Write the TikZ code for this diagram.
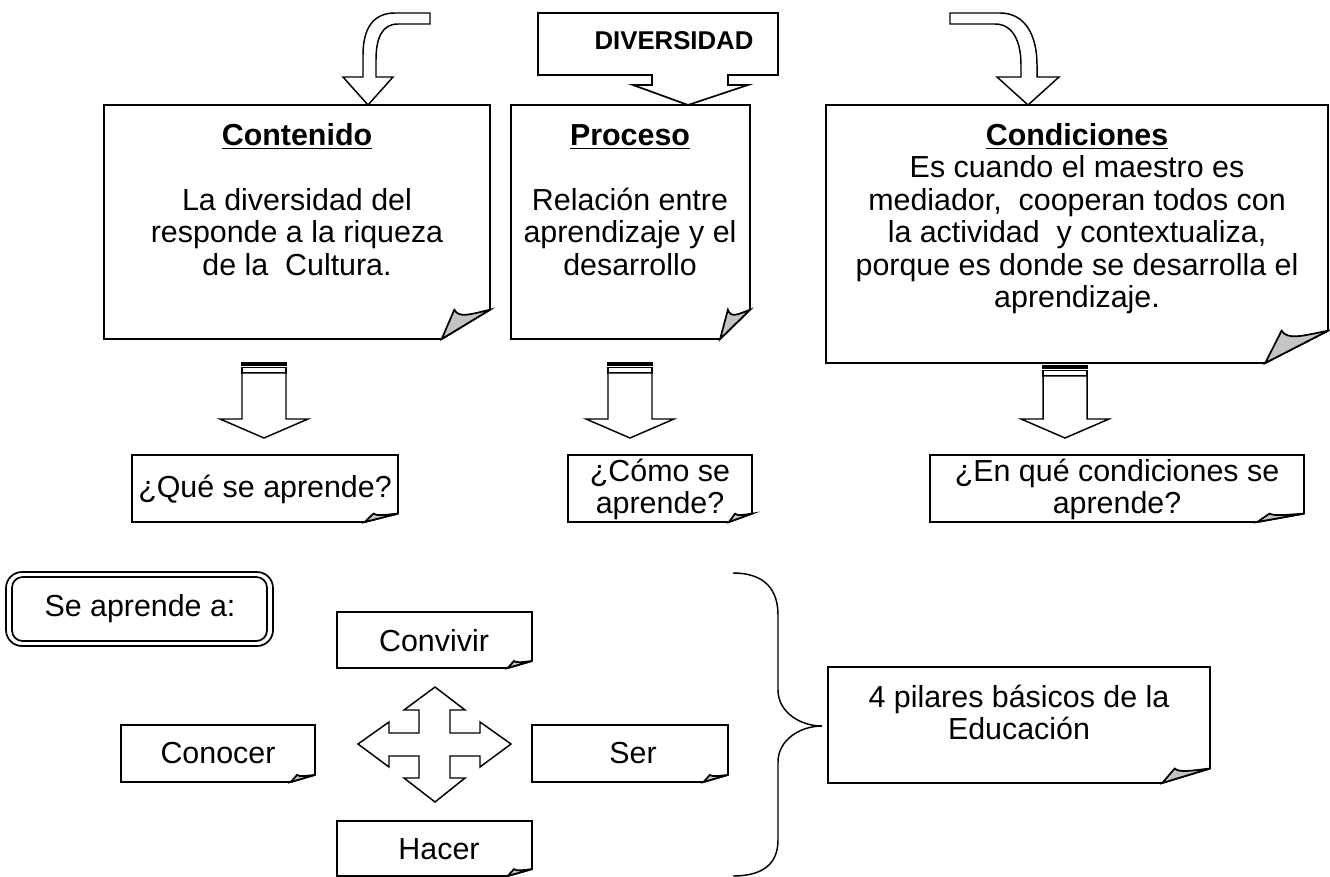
\documentclass[tikz,border=0pt]{standalone}
\usepackage{fontspec}
\setmainfont{Liberation Sans}
\definecolor{foldgray}{HTML}{C4C4C4}
\newcommand{\foldbox}[4]{%
  \pgfmathsetmacro\fdx{(#3-#1)/8}\pgfmathsetmacro\fdy{(#4-#2)/8}%
  \draw[boxline, fill=white] (#1,#2) -- (#3,#2) -- (#3,{#4-\fdy}) -- ({#3-\fdx},#4) -- (#1,#4) -- cycle;
  \draw[boxline, fill=foldgray] ({#3-\fdx},#4) -- ({#3-0.74*\fdx},{#4-\fdy})
     .. controls ({#3-0.64*\fdx},{#4-0.7*\fdy}) and ({#3-0.4*\fdx},{#4-0.85*\fdy}) .. (#3,{#4-\fdy}) -- cycle;
}
\newcommand{\stripedarrow}[4]{% cx, ytop, ybase, ytip
  \draw[arrline, fill=black] ({#1-22},#2) rectangle ({#1+22},{#2+2.3});
  \draw[arrline] ({#1-22},{#2+4.5}) rectangle ({#1+22},{#2+10});
  \draw[arrline, fill=white] ({#1-22},{#2+10}) -- ({#1-22},#3) -- ({#1-44},#3) -- (#1,#4)
     -- ({#1+44},#3) -- ({#1+22},#3) -- ({#1+22},{#2+10}) -- cycle;
}
\newcommand{\ulbf}[1]{\textbf{#1}\llap{\rule[-3.2pt]{\widthof{\textbf{#1}}}{1.1pt}}}
\usepackage{calc}
\tikzset{
  boxline/.style={draw=black, line width=1.3pt, line join=miter},
  arrline/.style={draw=black, line width=1.1pt, line join=miter},
  txt/.style={inner sep=0pt, align=center, font=\fontsize{22.8}{24.4}\selectfont},
}
\begin{document}
\begin{tikzpicture}[x=0.75pt, y=-0.75pt]
\useasboundingbox (0,0) rectangle (1330,877);
\fill[white] (0,0) rectangle (1330,877);

% ---- curved arrows at top
\draw[arrline, fill=white] (430,13) -- (395,13) .. controls (372,13) and (363,30) .. (363,55)
  -- (363,77) -- (343,77) -- (368,105) -- (393,77) -- (376,77) -- (376,60)
  .. controls (376,38) and (382,24) .. (398,24) -- (430,24) -- cycle;
\draw[arrline, fill=white] (950,13) -- (1000,13) .. controls (1025,13) and (1037,35) .. (1037,65)
  -- (1037,77) -- (1059,77) -- (1028,105) -- (997,77) -- (1021,77) -- (1021,65)
  .. controls (1021,40) and (1012,24) .. (995,24) -- (950,24) -- cycle;

% ---- DIVERSIDAD callout
\draw[boxline, fill=white] (538,13) -- (778,13) -- (778,75) -- (728,75) -- (728,85) -- (748,85)
  -- (688,105) -- (633,85) -- (652,85) -- (652,75) -- (538,75) -- cycle;
\node[inner sep=0pt, anchor=base, font=\fontsize{19.3}{22}\selectfont\bfseries] (div) at (674,50) {DIVERSIDAD};

% ---- top boxes
\foldbox{104}{105}{490}{339}
\node[txt, anchor=north] (contenido) at (297,122) {\strut\ulbf{Contenido}\\[24.4pt]La diversidad del\\responde a la riqueza\\de la\ \ Cultura.};
\foldbox{511}{105}{750}{339}
\node[txt, anchor=north] (proceso) at (630,122) {\strut\ulbf{Proceso}\\[24.4pt]Relación entre\\aprendizaje y el\\desarrollo};
\foldbox{826}{105}{1328}{363}
\node[txt, anchor=north] (condiciones) at (1077,122) {\strut\ulbf{Condiciones}\\Es cuando el maestro es\\mediador,\ \ cooperan todos con\\la actividad\ \ y contextualiza,\\porque es donde se desarrolla el\\aprendizaje.};

% ---- striped arrows
\stripedarrow{264}{363}{419}{438}
\stripedarrow{630}{363}{419}{438}
\stripedarrow{1065}{366}{419}{438}

% ---- question boxes
\foldbox{132}{455}{398}{522}
\node[txt, anchor=base] (q1) at (265,497) {¿Qué se aprende?};
\foldbox{568}{455}{752}{522}
\node[txt, anchor=north] (q2) at (660,458) {\strut¿Cómo se\\aprende?};
\foldbox{930}{455}{1304}{522}
\node[txt, anchor=north] (q3) at (1117,458) {\strut¿En qué condiciones se\\aprende?};

% ---- Se aprende a
\draw[boxline, rounded corners=12pt] (6,572) rectangle (273,646);
\draw[boxline, rounded corners=8pt] (12,577) rectangle (267,641);
\node[txt, anchor=base] (seaprende) at (140,616) {Se aprende a:};

% ---- pillars
\foldbox{337}{612}{532}{668}
\node[txt, anchor=base] (convivir) at (434,651) {Convivir};
\foldbox{121}{725}{315}{782}
\node[txt, anchor=base] (conocer) at (218,763) {Conocer};
\foldbox{532}{725}{728}{782}
\node[txt, anchor=base] (ser) at (633,763) {Ser};
\foldbox{337}{821}{532}{876}
\node[txt, anchor=base] (hacer) at (439,859) {Hacer};

% ---- four-way arrow
\draw[arrline, fill=white] (435,687) -- (465,710) -- (450,710) -- (450,733) -- (480,733) -- (480,722)
  -- (511,744) -- (480,767) -- (480,756) -- (450,756) -- (450,778) -- (465,778) -- (435,802)
  -- (404,778) -- (419,778) -- (419,756) -- (389,756) -- (389,767) -- (358,744) -- (389,722)
  -- (389,733) -- (419,733) -- (419,710) -- (404,710) -- cycle;

% ---- brace
\draw[arrline] (733,573) .. controls (765,573) and (778,590) .. (778,615) -- (778,690)
  .. controls (778,712) and (800,726) .. (822,726)
  .. controls (800,726) and (778,740) .. (778,762) -- (778,840)
  .. controls (778,862) and (765,876) .. (733,876);

% ---- 4 pilares
\foldbox{828}{667}{1210}{783}
\node[txt, anchor=north] (pilares) at (1019,684) {\strut 4 pilares básicos de la\\Educación};
\end{tikzpicture}
\end{document}
